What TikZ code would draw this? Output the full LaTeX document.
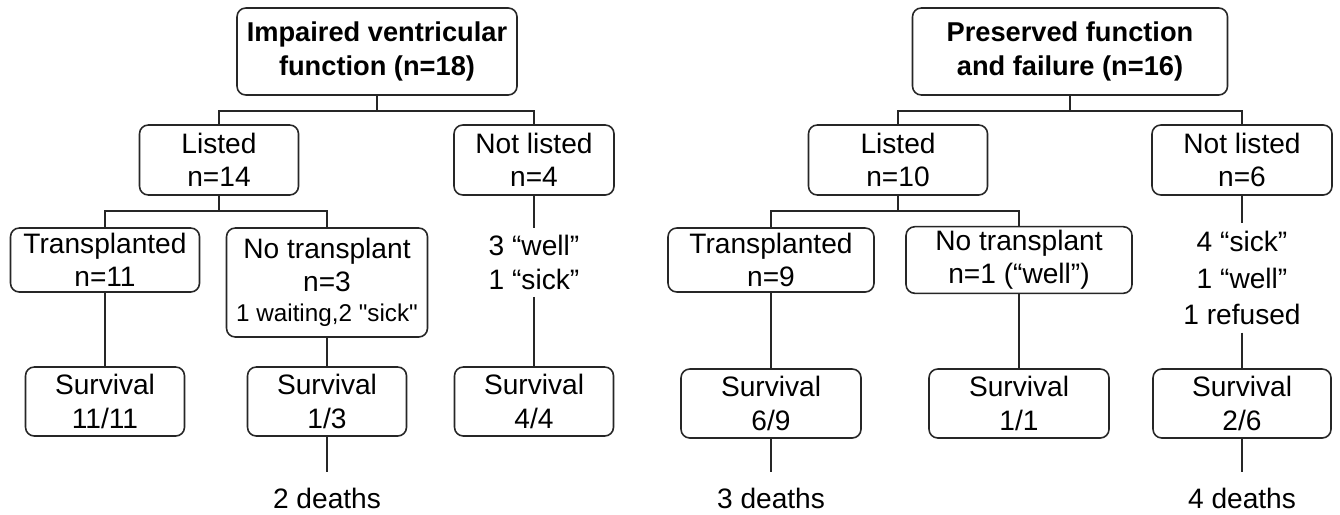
\documentclass[tikz,border=0pt]{standalone}
\usepackage{fontspec}
\setmainfont{Liberation Sans}
\newfontfamily\plainqfont{Liberation Sans}
\usepackage{tikz}
\usetikzlibrary{positioning}

\begin{document}
\begin{tikzpicture}[
    box/.style={
      rectangle, rounded corners=5pt, draw=black!85, line width=0.9pt,
      minimum width=#1, minimum height=1.38cm, inner sep=2pt,
      align=center, font=\fontsize{16}{19}\selectfont
    },
    box/.default=3.18cm,
    topbox/.style={box=#1, minimum height=1.74cm,
      font=\fontsize{15.5}{19}\selectfont\bfseries},
    note/.style={align=center, inner sep=4pt, font=\fontsize{16}{19}\selectfont},
    link/.style={draw=black!85, line width=0.9pt}
  ]
  \useasboundingbox (0,0) rectangle (26.8,-10.28);

  %% ===== Impaired ventricular function (left) =====
  \node[topbox=5.6cm] (rootL) at (7.54,-1.03) {Impaired ventricular\\function (n=18)};

  \node[box=3.18cm, minimum height=1.4cm] (listL) at (4.38,-3.2)  {Listed\\n=14};
  \node[box=3.2cm, minimum height=1.4cm]  (notL)  at (10.68,-3.2) {Not listed\\n=4};

  \node[box=3.78cm, minimum height=1.28cm] (transL) at (2.1,-5.2) {Transplanted\\n=11};
  \node[box=4.02cm, minimum height=2.18cm] (notrL)  at (6.54,-5.65)
    {No transplant\\n=3\\[-2pt]{\plainqfont\fontsize{13.8}{16}\selectfont 1 waiting,2 "sick"}};
  \node[note] (wellL) at (10.68,-5.25) {3 “well”\\1 “sick”};

  \node[box] (survL1) at (2.1,-8.03)   {Survival\\11/11};
  \node[box] (survL2) at (6.54,-8.03)  {Survival\\1/3};
  \node[box] (survL3) at (10.68,-8.03) {Survival\\4/4};

  \node[note, inner sep=9pt] (deathL) at (6.54,-9.96) {2 deaths};

  \draw[link] (rootL.south) -- ++(0,-0.3) -| (listL.north);
  \draw[link] (rootL.south) -- ++(0,-0.3) -| (notL.north);
  \draw[link] (listL.south) -- ++(0,-0.3) -| (transL.north);
  \draw[link] (listL.south) -- ++(0,-0.3) -| (notrL.north);
  \draw[link] (notL) -- (wellL);
  \draw[link] (wellL) -- (survL3);
  \draw[link] (transL) -- (survL1);
  \draw[link] (notrL) -- (survL2);
  \draw[link] (survL2) -- (deathL);

  %% ===== Preserved function and failure (right) =====
  \node[topbox=6.3cm] (rootR) at (21.4,-1.03) {Preserved function\\and failure (n=16)};

  \node[box=3.58cm, minimum height=1.4cm] (listR) at (17.96,-3.2) {Listed\\n=10};
  \node[box=3.6cm, minimum height=1.4cm]  (notR)  at (24.84,-3.2) {Not listed\\n=6};

  \node[box=4.12cm, minimum height=1.28cm] (transR) at (15.42,-5.2) {Transplanted\\n=9};
  \node[box=4.52cm, minimum height=1.28cm] (notrR)  at (20.38,-5.2) {No transplant\\n=1 (“well”)};
  \node[note, font=\fontsize{16}{21}\selectfont] (sickR) at (24.84,-5.56) {4 “sick”\\1 “well”\\1 refused};

  \node[box=3.6cm]  (survR1) at (15.42,-8.07) {Survival\\6/9};
  \node[box=3.6cm]  (survR2) at (20.38,-8.07) {Survival\\1/1};
  \node[box=3.56cm] (survR3) at (24.84,-8.07) {Survival\\2/6};

  \node[note, inner sep=9pt] (deathR1) at (15.42,-9.96) {3 deaths};
  \node[note, inner sep=9pt] (deathR2) at (24.84,-9.96) {4 deaths};

  \draw[link] (rootR.south) -- ++(0,-0.3) -| (listR.north);
  \draw[link] (rootR.south) -- ++(0,-0.3) -| (notR.north);
  \draw[link] (listR.south) -- ++(0,-0.3) -| (transR.north);
  \draw[link] (listR.south) -- ++(0,-0.3) -| (notrR.north);
  \draw[link] (notR) -- (sickR);
  \draw[link] (sickR) -- (survR3);
  \draw[link] (transR) -- (survR1);
  \draw[link] (notrR) -- (survR2);
  \draw[link] (survR1) -- (deathR1);
  \draw[link] (survR3) -- (deathR2);
\end{tikzpicture}
\end{document}
